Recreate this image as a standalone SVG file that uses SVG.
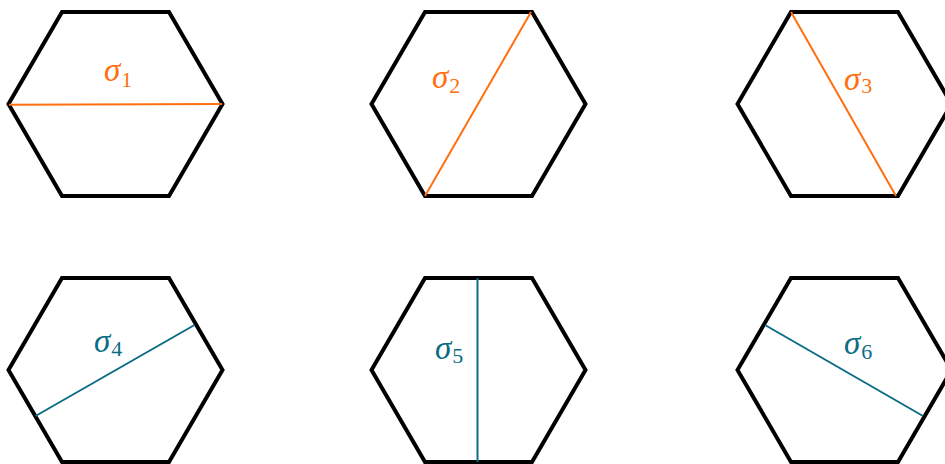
<svg xmlns="http://www.w3.org/2000/svg" width="945" height="464" viewBox="0 0 945 464">
<style>
.hex{fill:none;stroke:#000;stroke-width:4;stroke-linejoin:miter}
.o{stroke:#ff6f0f;stroke-width:2;fill:none}
.t{stroke:#0b6c85;stroke-width:2;fill:none}
.lab{font-family:"Liberation Serif","DejaVu Serif",serif;font-size:33px;font-style:italic}
.sub{font-size:22px;font-style:normal}
.lo{fill:#ff6f0f}
.lt{fill:#0b6c85}
</style>
<rect width="945" height="464" fill="#fff"/>
<g id="hex1">
<polygon class="hex" points="8.5,104 62,12 169,12 222.5,104 169,196 62,196"/>
<line class="o" x1="9" y1="104.8" x2="222" y2="104"/>
<text class="lab lo" x="104" y="81">σ<tspan class="sub" dx="1" dy="6">1</tspan></text>
</g>
<g id="hex2">
<polygon class="hex" points="371.5,104 425,12 532,12 585.5,104 532,196 425,196"/>
<line class="o" x1="531" y1="12" x2="425" y2="196"/>
<text class="lab lo" x="432" y="88">σ<tspan class="sub" dx="1" dy="5">2</tspan></text>
</g>
<g id="hex3">
<polygon class="hex" points="737.5,104 791,12 898,12 951.5,104 898,196 791,196"/>
<line class="o" x1="791" y1="12" x2="896" y2="196"/>
<text class="lab lo" x="844" y="90">σ<tspan class="sub" dx="1" dy="3">3</tspan></text>
</g>
<g id="hex4">
<polygon class="hex" points="8.5,370 62,278 169,278 222.5,370 169,462 62,462"/>
<line class="t" x1="35.5" y1="416" x2="194.5" y2="325"/>
<text class="lab lt" x="94" y="352">σ<tspan class="sub" dx="1" dy="4">4</tspan></text>
</g>
<g id="hex5">
<polygon class="hex" points="371.5,370 425,278 532,278 585.5,370 532,462 425,462"/>
<line class="t" x1="477.5" y1="278" x2="477.5" y2="462"/>
<text class="lab lt" x="435" y="359">σ<tspan class="sub" dx="1" dy="4">5</tspan></text>
</g>
<g id="hex6">
<polygon class="hex" points="737.5,370 791,278 898,278 951.5,370 898,462 791,462"/>
<line class="t" x1="765" y1="325" x2="923" y2="416"/>
<text class="lab lt" x="844" y="354">σ<tspan class="sub" dx="1" dy="5">6</tspan></text>
</g>
</svg>
